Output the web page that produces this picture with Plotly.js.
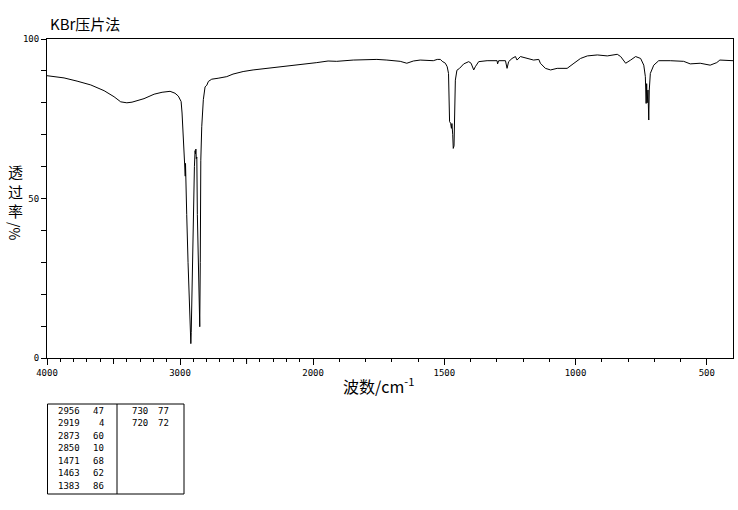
<!DOCTYPE html>
<html>
<head>
<meta charset="utf-8">
<script src="https://cdn.plot.ly/plotly-3.0.1.min.js"></script>
<style>html,body{margin:0;padding:0;background:#fff;}</style>
</head>
<body>
<div id="chart" style="width:738px;height:510px;"></div>
<script>
// ---- data ----
const wavenumber = [4000,3872,3774,3671,3571,3496,3446,3400,3361,3271,3195,3135,3075,3038,3013,2992,2985,2975,2966,2961,2959,2957,2956,2950,2940,2930,2922,2919,2916,2908,2900,2892,2887,2884,2881,2878,2874,2870,2864,2858,2852,2848,2844,2837,2825,2812,2799,2787,2762,2714,2649,2602,2526,2451,2348,2226,2098,1986,1943,1910,1847,1757,1719,1668,1643,1618,1592,1566,1542,1527,1515,1508,1496,1489,1484,1480,1476,1473,1471,1468,1466,1463,1461,1458,1452,1442,1426,1407,1398,1388,1382,1369,1337,1299,1297,1293,1267,1261,1255,1242,1229,1223,1210,1184,1160,1140,1134,1115,1095,1070,1032,1006,981,955,917,879,841,828,809,790,771,752,740,734,731,729,727,724,721,719,715,702,683,639,588,563,525,487,462,450,404,400];
const transmittance = [88.5,87.8,86.8,85.6,83.8,81.9,80.3,80.0,80.2,81.3,82.7,83.3,83.6,83.0,82.1,80.4,76.8,66.5,61.0,57.0,61.0,56.0,52.0,45,30,18,8,4.5,8,25,51.7,60,65,64,65.5,62.5,63,45,28,14,9.8,30,62,72.5,81,85,85.5,86.7,87.4,87.7,88.2,89,89.8,90.3,90.8,91.3,91.8,92.6,93.1,93.0,93.4,93.6,93.4,93.0,92.4,93.1,93.4,93.4,93.2,93.6,93.6,93.0,92.4,91.3,89.2,74.1,73.6,72.0,73.5,70,65.7,66.5,72.5,87.1,90.2,90.8,92.2,92.9,92.4,90.3,91.3,92.9,93.2,93.2,92.2,93.2,93.2,90.8,92.9,93.9,94.5,93.4,94.5,93.9,93.4,93.6,92.4,90.8,90.3,90.8,90.8,92.4,93.9,94.7,95.0,94.7,95.2,94.5,92.4,93.4,94.5,93.9,91.8,88.2,79.8,86,80,84,74.6,84,89.2,91.8,93.2,93.2,93.0,92.2,92.4,91.8,92.6,93.4,93.2,93.2];

const xTickWn = [4000,3000,2000,1500,1000,500];
const xTickText = ["4000","3000","2000","1500","1000","500"];
const xLongTickWn = [3500,2500];
const yTickVals = [0,50,100];
const yTickText = ["0","50","100"];
const yMinorVals = [10,20,30,40,60,70,80,90];

const yTitleChars = ["透","过","率"];
const yTitleUnit = "/%";

const peakWnLeft = ["2956","2919","2873","2850","1471","1463","1383"];
const peakTLeft = [47,4,60,10,68,62,86];
const peakWnRight = ["730","720"];
const peakTRight = [77,72];

// ---- scale: 4000-2000 compressed, 2000-400 expanded ----
const K = 0.507;
function toU(w){ return w >= 2000 ? (4000 - w) * K : (2000 * K) + (2000 - w); }

const minorWn = [];
for (let w = 3900; w > 400; w -= 100) { if (xTickWn.indexOf(w) < 0) minorWn.push(w); }

// pixel -> paper helpers (plot area: x 47..733, y 39..358)
const PL = 47, PR = 733, PT = 39, PB = 358;
function px(p){ return (p - PL) / (PR - PL); }
function py(p){ return (PB - p) / (PB - PT); }

const trace = {
  x: wavenumber.map(toU),
  y: transmittance,
  type: 'scatter',
  mode: 'lines',
  line: {color: '#000', width: 1},
  hoverinfo: 'skip'
};

const mono = {family: 'DejaVu Sans Mono, monospace', size: 9, color: '#000'};
const cjk = 'Noto Sans CJK SC, sans-serif';

const annotations = [
  {text: '波数/cm<sup>-1</sup>', xref: 'paper', yref: 'paper', x: px(378), y: py(385),
   xanchor: 'center', yanchor: 'middle', showarrow: false, font: {family: cjk, size: 16, color: '#000'}},
  {text: yTitleUnit, xref: 'paper', yref: 'paper', x: px(15), y: py(231), textangle: 90,
   xanchor: 'center', yanchor: 'middle', showarrow: false, borderpad: 0, font: {family: cjk, size: 14, color: '#000'}}
];
yTitleChars.forEach((c, i) => {
  annotations.push({text: c, xref: 'paper', yref: 'paper', x: px(15), y: py(172 + i*19),
    xanchor: 'center', yanchor: 'middle', showarrow: false, borderpad: 0, font: {family: cjk, size: 15, color: '#000'}});
});

const rowY0 = 411, rowStep = 12.45;
peakWnLeft.forEach((w, i) => {
  annotations.push({text: w, xref: 'paper', yref: 'paper', x: px(56), y: py(rowY0 + i*rowStep),
    xanchor: 'left', yanchor: 'middle', showarrow: false, font: mono});
  annotations.push({text: String(peakTLeft[i]), xref: 'paper', yref: 'paper', x: px(106), y: py(rowY0 + i*rowStep),
    xanchor: 'right', yanchor: 'middle', showarrow: false, font: mono});
});
peakWnRight.forEach((w, i) => {
  annotations.push({text: w, xref: 'paper', yref: 'paper', x: px(130), y: py(rowY0 + i*rowStep),
    xanchor: 'left', yanchor: 'middle', showarrow: false, font: mono});
  annotations.push({text: String(peakTRight[i]), xref: 'paper', yref: 'paper', x: px(171), y: py(rowY0 + i*rowStep),
    xanchor: 'right', yanchor: 'middle', showarrow: false, font: mono});
});

const shapes = [
  {type: 'rect', xref: 'paper', yref: 'paper', x0: px(47.5), x1: px(184), y0: py(404), y1: py(494),
   line: {color: '#000', width: 1}},
  {type: 'line', xref: 'paper', yref: 'paper', x0: px(117), x1: px(117), y0: py(404), y1: py(494),
   line: {color: '#000', width: 1}}
];
// longer ticks at the half-thousand marks
xLongTickWn.forEach(w => {
  shapes.push({type: 'line', xref: 'x', yref: 'paper', x0: toU(w), x1: toU(w), y0: 0, y1: py(PB + 6),
    line: {color: '#000', width: 1}});
});

const layout = {
  width: 738, height: 510,
  margin: {l: PL, r: 738 - PR, t: PT, b: 510 - PB, pad: 0},
  paper_bgcolor: '#fff', plot_bgcolor: '#fff',
  showlegend: false,
  title: {text: 'KBr压片法', font: {family: cjk, size: 15, color: '#000'},
          xref: 'container', yref: 'container', x: 50/738, xanchor: 'left', y: 1 - 25/510, yanchor: 'middle'},
  xaxis: {
    range: [toU(4000), toU(400)],
    tickmode: 'array', tickvals: xTickWn.map(toU), ticktext: xTickText,
    ticks: 'outside', ticklen: 6, tickwidth: 1, tickcolor: '#000',
    minor: {tickmode: 'array', tickvals: minorWn.map(toU), ticks: 'outside', ticklen: 3, tickwidth: 1, tickcolor: '#000', showgrid: false},
    tickfont: mono,
    showline: true, linecolor: '#000', linewidth: 1, mirror: true,
    showgrid: false, zeroline: false, fixedrange: true
  },
  yaxis: {
    range: [0, 100],
    tickmode: 'array', tickvals: yTickVals, ticktext: yTickText,
    ticks: 'outside', ticklen: 5, tickwidth: 1, tickcolor: '#000',
    minor: {tickmode: 'array', tickvals: yMinorVals, ticks: 'outside', ticklen: 5, tickwidth: 1, tickcolor: '#000', showgrid: false},
    tickfont: mono,
    showline: true, linecolor: '#000', linewidth: 1, mirror: true,
    showgrid: false, zeroline: false, fixedrange: true
  },
  annotations: annotations,
  shapes: shapes
};

Plotly.newPlot('chart', [trace], layout, {displayModeBar: false, staticPlot: true});
</script>
</body>
</html>
